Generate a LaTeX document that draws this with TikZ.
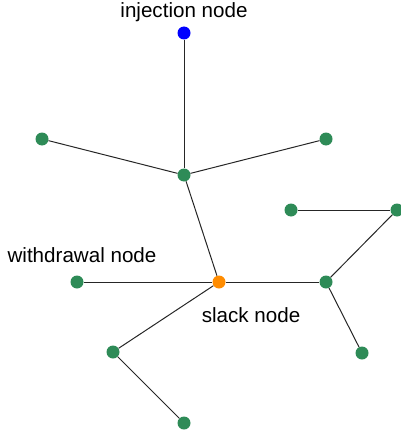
\documentclass[tikz,border=0pt]{standalone}
\usepackage{fontspec}
\setmainfont{Liberation Sans}
\definecolor{nodegreen}{HTML}{2E8B57}
\definecolor{nodeorange}{HTML}{FF8C00}
\definecolor{nodeblue}{HTML}{0000FF}
\begin{document}
\begin{tikzpicture}[x=1pt,y=-1pt,
  bus/.style={circle,fill=nodegreen,inner sep=0pt,minimum size=13pt},
  line/.style={draw=black!85,line width=1pt},
  lbl/.style={font=\fontsize{20.6}{24}\selectfont,inner sep=0pt}]
\useasboundingbox (0,0) rectangle (401,436);
\node[bus,fill=nodeblue] (inj) at (184,33) {};
\node[bus] (a) at (42,139) {};
\node[bus] (b) at (184,175) {};
\node[bus] (c) at (326,139) {};
\node[bus] (d) at (291,210) {};
\node[bus] (e) at (397,210) {};
\node[bus] (w) at (77,282) {};
\node[bus,fill=nodeorange] (s) at (219,282) {};
\node[bus] (f) at (326,282) {};
\node[bus] (g) at (113,352) {};
\node[bus] (h) at (362,353) {};
\node[bus] (k) at (184,423) {};
\draw[line] (inj) -- (b);
\draw[line] (a) -- (b);
\draw[line] (c) -- (b);
\draw[line] (b) -- (s);
\draw[line] (w) -- (s);
\draw[line] (s) -- (f);
\draw[line] (f) -- (e);
\draw[line] (d) -- (e);
\draw[line] (f) -- (h);
\draw[line] (s) -- (g);
\draw[line] (g) -- (k);
\node[lbl] (tinj) at (184,12) {injection node};
\node[lbl] (tw) at (82,255) {withdrawal node};
\node[lbl] (ts) at (251,315) {slack node};
\end{tikzpicture}
\end{document}
